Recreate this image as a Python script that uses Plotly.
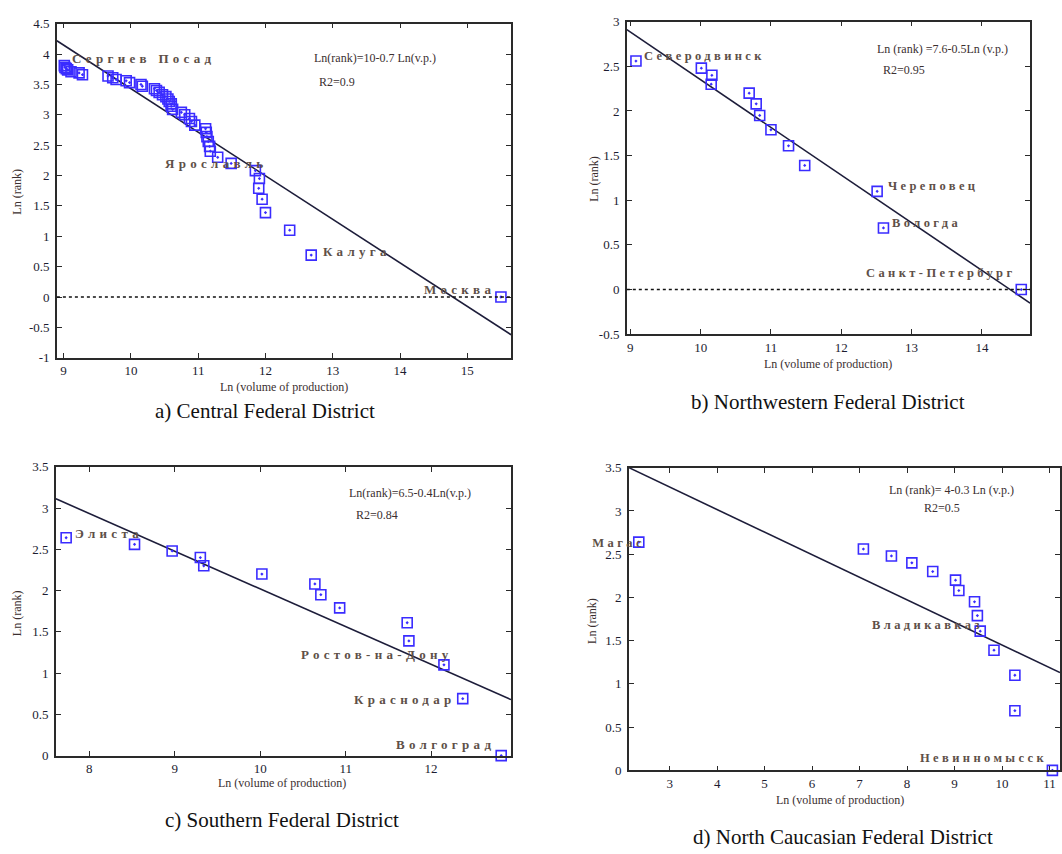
import plotly.graph_objects as go

W, H = 1062, 854

# ---- data: ln(rank) vs ln(volume of production) by federal district ----
# a) Central
central_x = [15.50, 12.68, 12.36, 12.00, 11.95, 11.90, 11.91, 11.85, 11.49, 11.29,
             11.18, 11.17, 11.15, 11.13, 11.12, 11.11, 10.95, 10.90, 10.87, 10.80,
             10.75, 10.62, 10.60, 10.60, 10.57, 10.55, 10.52, 10.47, 10.42, 10.38,
             10.35, 10.17, 10.15, 9.98, 9.93, 9.78, 9.73, 9.66, 9.28, 9.23,
             9.11, 9.06, 9.04, 9.02, 9.01]
central_y = [0.00, 0.69, 1.10, 1.39, 1.61, 1.79, 1.95, 2.08, 2.20, 2.30,
             2.40, 2.48, 2.56, 2.64, 2.71, 2.77, 2.83, 2.89, 2.94, 3.00,
             3.04, 3.09, 3.14, 3.18, 3.22, 3.26, 3.30, 3.33, 3.37, 3.40,
             3.43, 3.47, 3.50, 3.53, 3.56, 3.58, 3.61, 3.64, 3.66, 3.69,
             3.71, 3.74, 3.76, 3.78, 3.81]
# b) Northwestern
northwest_x = [14.56, 12.60, 12.51, 11.48, 11.25, 11.00, 10.84, 10.79, 10.69,
               10.15, 10.16, 10.01, 9.08]
northwest_y = [0.00, 0.69, 1.10, 1.39, 1.61, 1.79, 1.95, 2.08, 2.20,
               2.30, 2.40, 2.48, 2.56]
# c) Southern
south_x = [12.82, 12.37, 12.15, 11.74, 11.72, 10.93, 10.71, 10.64, 10.02,
           9.34, 9.30, 8.97, 8.53, 7.73]
south_y = [0.00, 0.69, 1.10, 1.39, 1.61, 1.79, 1.95, 2.08, 2.20,
           2.30, 2.40, 2.48, 2.56, 2.64]
# d) North Caucasian
ncauc_x = [11.06, 10.27, 10.27, 9.83, 9.54, 9.48, 9.42, 9.09, 9.02,
           8.54, 8.10, 7.67, 7.08, 2.35]
ncauc_y = [0.00, 0.69, 1.10, 1.39, 1.61, 1.79, 1.95, 2.08, 2.20,
           2.30, 2.40, 2.48, 2.56, 2.64]

# fitted lines (intercept, slope) as drawn
central_fit = [10.6, -0.717]
northwest_fit = [7.69, -0.534]
south_fit = [6.59, -0.457]
ncauc_fit = [4.06, -0.261]

equations = ["Ln(rank)=10-0.7 Ln(v.p.)", "Ln (rank) =7.6-0.5Ln (v.p.)",
             "Ln(rank)=6.5-0.4Ln(v.p.)", "Ln (rank)= 4-0.3 Ln (v.p.)"]
r2_labels = ["R2=0.9", "R2=0.95", "R2=0.84", "R2=0.5"]
captions = ["a) Central Federal District", "b) Northwestern Federal District",
            "c) Southern Federal District", "d) North Caucasian Federal District"]

# city labels: (text, x, y, anchor) in data units of each panel
central_cities = [("Сергиев Посад", 9.09, 3.93, "left"), ("Ярославль", 10.47, 2.19, "left"),
                  ("Калуга", 12.82, 0.75, "left"), ("Москва", 14.33, 0.13, "left")]
northwest_cities = [("Северодвинск", 9.16, 2.62, "left"), ("Череповец", 12.63, 1.16, "left"),
                    ("Вологда", 12.69, 0.745, "left"), ("Санкт-Петербург", 12.33, 0.185, "left")]
south_cities = [("Элиста", 7.805, 2.69, "left"), ("Ростов-на-Дону", 10.46, 1.22, "left"),
                ("Краснодар", 11.08, 0.68, "left"), ("Волгоград", 11.57, 0.135, "left")]
ncauc_cities = [("Магас", 2.52, 2.63, "right"), ("Владикавказ", 7.21, 1.68, "left"),
                ("Невинномысск", 8.24, 0.14, "left")]

# tick values / labels
central_xticks = [9, 10, 11, 12, 13, 14, 15]
central_yticks = [-1, -0.5, 0, 0.5, 1, 1.5, 2, 2.5, 3, 3.5, 4, 4.5]
central_ytext = ["-1", "-0.5", "0", "0.5", "1", "1.5", "2", "2.5", "3", "3.5", "4", "4.5"]
northwest_xticks = [9, 10, 11, 12, 13, 14]
northwest_yticks = [-0.5, 0, 0.5, 1, 1.5, 2, 2.5, 3]
northwest_ytext = ["-0.5", "0", "0.5", "1", "1.5", "2", "2.5", "3"]
south_xticks = [8, 9, 10, 11, 12]
south_yticks = [0, 0.5, 1, 1.5, 2, 2.5, 3, 3.5]
south_ytext = ["0", "0.5", "1", "1.5", "2", "2.5", "3", "3.5"]
ncauc_xticks = [3, 4, 5, 6, 7, 8, 9, 10, 11]
ncauc_yticks = [0, 0.5, 1, 1.5, 2, 2.5, 3, 3.5]
ncauc_ytext = ["0", "0.5", "1", "1.5", "2", "2.5", "3", "3.5"]

# ---- layout geometry (pixels) ----
panels = [
    dict(x=central_x, y=central_y, fit=central_fit, cities=central_cities, lsize=13,
         xr=[8.9, 15.65], yr=[-1, 4.5], xt=central_xticks, yt=central_yticks,
         ytt=central_ytext, px=(57, 512), py=(17, 357), zero=True,
         eq=(12.69, 3.93), r2=(12.77, 3.545),
         xtitle=(285, 387), ytitle=(17, 188), cap=(265, 411)),
    dict(x=northwest_x, y=northwest_y, fit=northwest_fit, cities=northwest_cities, lsize=12.5,
         xr=[8.95, 14.685], yr=[-0.5, 3], xt=northwest_xticks, yt=northwest_yticks,
         ytt=northwest_ytext, px=(628, 1032), py=(15, 333), zero=True,
         eq=(12.48, 2.69), r2=(12.56, 2.46),
         xtitle=(830, 363), ytitle=(595, 175), cap=(830, 402)),
    dict(x=south_x, y=south_y, fit=south_fit, cities=south_cities, lsize=13,
         xr=[7.61, 12.935], yr=[0, 3.5], xt=south_xticks, yt=south_yticks,
         ytt=south_ytext, px=(56, 512), py=(468, 762), zero=False,
         eq=(11.02, 3.18), r2=(11.10, 2.91),
         xtitle=(283, 790), ytitle=(17, 617), cap=(283, 828)),
    dict(x=ncauc_x, y=ncauc_y, fit=ncauc_fit, cities=ncauc_cities, lsize=12.5,
         xr=[2.14, 11.22], yr=[0, 3.5], xt=ncauc_xticks, yt=ncauc_yticks,
         ytt=ncauc_ytext, px=(630, 1062), py=(469, 777), zero=False,
         eq=(7.58, 3.24), r2=(8.31, 3.03),
         xtitle=(842, 807), ytitle=(593, 625), cap=(845, 845)),
]

SERIF = "Liberation Serif, Times New Roman, serif"
TICK_COLOR = "#1c1c30"
TITLE_COLOR = "#3b2f30"
LABEL_COLOR = "#5e5048"
MARKER_COLOR = "#3a2cff"
LINE_COLOR = "#1d1d3a"

fig = go.Figure()
annotations = []
shapes = []

for i, p in enumerate(panels, start=1):
    xa = "x" if i == 1 else f"x{i}"
    ya = "y" if i == 1 else f"y{i}"
    xkey = "xaxis" if i == 1 else f"xaxis{i}"
    ykey = "yaxis" if i == 1 else f"yaxis{i}"

    # regression line across the full x range
    a, b = p["fit"]
    lx = list(p["xr"])
    ly = [a + b * v for v in lx]
    fig.add_trace(go.Scatter(x=lx, y=ly, mode="lines", xaxis=xa, yaxis=ya,
                             line=dict(color=LINE_COLOR, width=1.6),
                             showlegend=False, hoverinfo="skip"))
    # observations
    fig.add_trace(go.Scatter(x=p["x"], y=p["y"], mode="markers", xaxis=xa, yaxis=ya,
                             marker=dict(symbol="square-open-dot", size=10,
                                         color=MARKER_COLOR, line=dict(width=1.6)),
                             cliponaxis=False, showlegend=False))

    x0, x1 = p["px"]
    y0, y1 = p["py"]
    axis_common = dict(showline=True, linecolor="#2a2a2a", linewidth=1.5,
                       mirror="ticks", ticks="inside", ticklen=5, tickwidth=1.2,
                       tickcolor="#2a2a2a", showgrid=False, zeroline=False,
                       tickfont=dict(family=SERIF, size=13, color=TICK_COLOR))
    fig.update_layout(**{
        xkey: dict(domain=[x0 / W, min(x1 / W, 1.0)], range=p["xr"], anchor=ya,
                   tickvals=p["xt"], ticktext=[str(v) for v in p["xt"]],
                   **axis_common),
        ykey: dict(domain=[1 - y1 / H, 1 - y0 / H], range=p["yr"], anchor=xa,
                   tickvals=p["yt"], ticktext=p["ytt"], ticklabelstandoff=3,
                   **axis_common),
    })

    if p["zero"]:
        shapes.append(dict(type="line", xref=f"{xa} domain", yref=ya,
                           x0=0, x1=1, y0=0, y1=0,
                           line=dict(color="#111111", width=1.5, dash="dot")))

    # city names
    for name, cx, cy, anc in p["cities"]:
        annotations.append(dict(x=cx, y=cy, xref=xa, yref=ya, text=name,
                                showarrow=False, xanchor=anc, yanchor="middle",
                                align=anc,
                                font=dict(family=SERIF, size=p["lsize"], color=LABEL_COLOR)))
    # fit equation and R2
    annotations.append(dict(x=p["eq"][0], y=p["eq"][1], xref=xa, yref=ya,
                            text=equations[i - 1], showarrow=False,
                            xanchor="left", yanchor="middle",
                            font=dict(family=SERIF, size=12, color=TITLE_COLOR)))
    annotations.append(dict(x=p["r2"][0], y=p["r2"][1], xref=xa, yref=ya,
                            text=r2_labels[i - 1], showarrow=False,
                            xanchor="left", yanchor="middle",
                            font=dict(family=SERIF, size=12, color=TITLE_COLOR)))
    # axis titles
    tx, ty = p["xtitle"]
    annotations.append(dict(x=tx / W, y=1 - ty / H, xref="paper", yref="paper",
                            text="Ln (volume of production)", showarrow=False,
                            xanchor="center", yanchor="middle",
                            font=dict(family=SERIF, size=12, color=TITLE_COLOR)))
    tx, ty = p["ytitle"]
    annotations.append(dict(x=tx / W, y=1 - ty / H, xref="paper", yref="paper",
                            text="Ln (rank)", showarrow=False, textangle=-90,
                            xanchor="center", yanchor="middle",
                            font=dict(family=SERIF, size=12, color=TITLE_COLOR)))
    # panel caption
    tx, ty = p["cap"]
    annotations.append(dict(x=tx / W, y=1 - ty / H, xref="paper", yref="paper",
                            text=captions[i - 1], showarrow=False,
                            xanchor="center", yanchor="middle",
                            font=dict(family=SERIF, size=21, color="#111111")))

fig.update_layout(width=W, height=H, margin=dict(l=0, r=0, t=0, b=0),
                  paper_bgcolor="white", plot_bgcolor="white",
                  annotations=annotations, shapes=shapes, showlegend=False)

# widen the letter spacing of the Cyrillic city names
spacing_js = """
document.querySelectorAll('text.annotation-text').forEach(function (t) {
  if (/[\\u0400-\\u04FF]/.test(t.textContent)) {
    var sp = parseFloat(t.style.fontSize) >= 13 ? 4.3 : 3.4;
    t.setAttribute('letter-spacing', sp + 'px');
    t.style.fontWeight = 'bold';
  }
});
"""
fig.write_html("out.html", post_script=spacing_js)
